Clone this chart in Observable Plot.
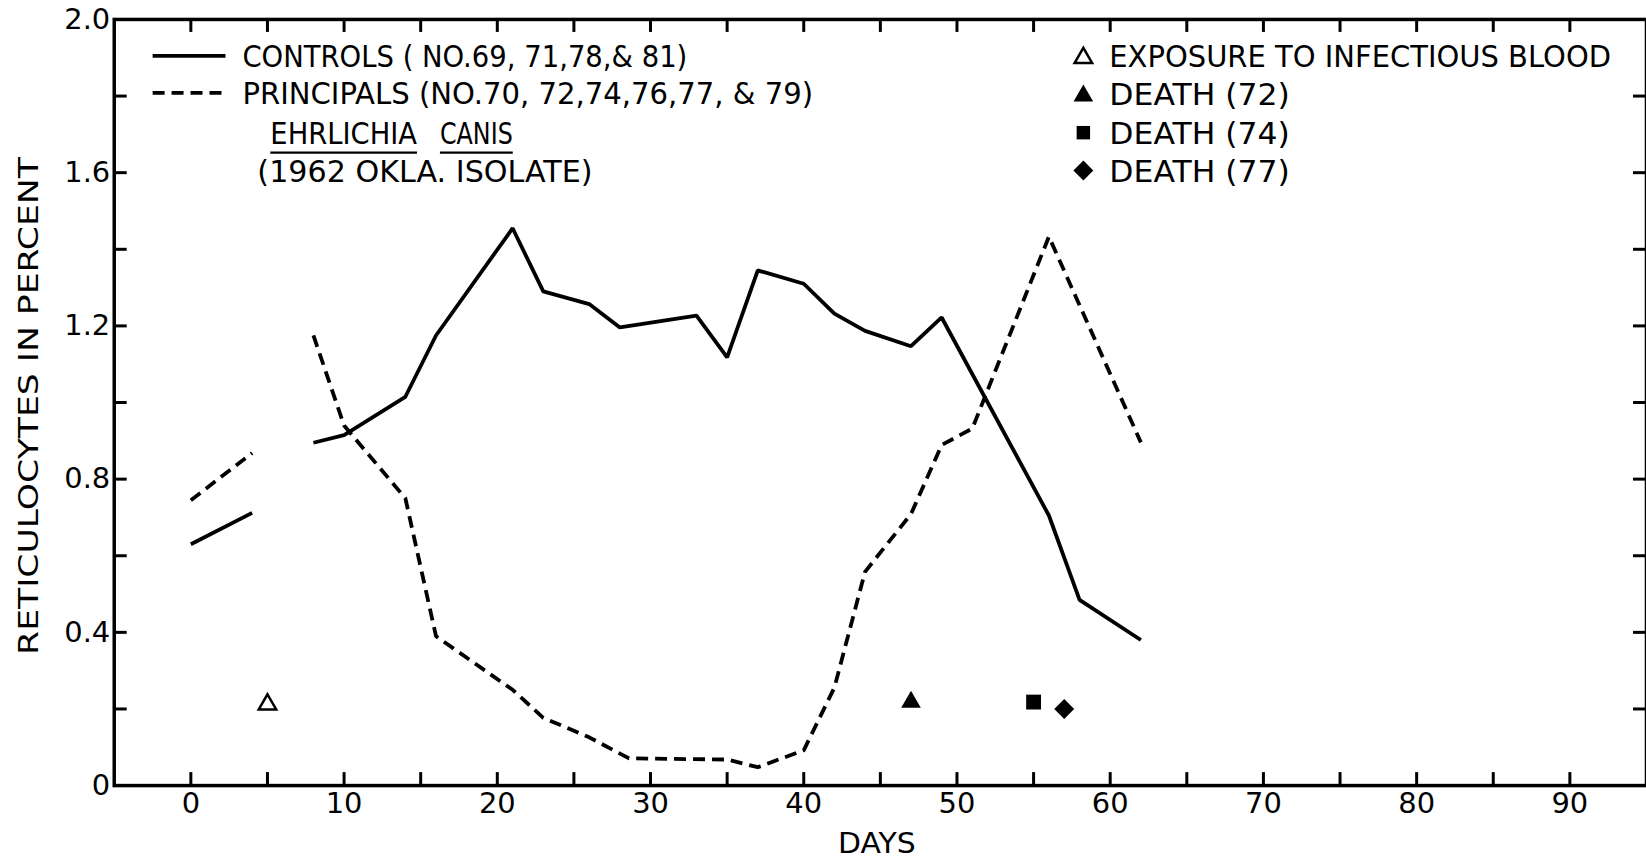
<!DOCTYPE html>
<html>
<head>
<meta charset="utf-8">
<script src="https://cdn.jsdelivr.net/npm/d3@7"></script>
<script src="https://cdn.jsdelivr.net/npm/@observablehq/plot@0.6"></script>
<style>
html, body { margin: 0; padding: 0; background: #fff; overflow: hidden; }
#chart svg { display: block; }
</style>
</head>
<body>
<div id="chart"></div>
<script>
// ---- data ----
const controlsDays1 = [0, 4];
const controlsValues1 = [0.63, 0.712];
const controlsDays2 = [8, 10, 14, 16, 21, 23, 26, 28, 33, 35, 37, 40, 42, 44, 47, 49, 56, 58, 62];
const controlsValues2 = [0.895, 0.915, 1.015, 1.175, 1.455, 1.29, 1.257, 1.196, 1.227, 1.118, 1.345, 1.31, 1.232, 1.187, 1.147, 1.222, 0.705, 0.485, 0.38];

const principalsDays1 = [0, 4];
const principalsValues1 = [0.745, 0.868];
const principalsDays2 = [8, 10, 14, 16, 21, 23, 26, 28.6, 35, 37, 40, 42, 44, 47, 49, 51, 56, 62];
const principalsValues2 = [1.175, 0.94, 0.75, 0.39, 0.25, 0.177, 0.126, 0.071, 0.068, 0.048, 0.092, 0.256, 0.558, 0.709, 0.889, 0.932, 1.433, 0.896];

const eventKinds = ["exposure", "death72", "death74", "death77"];
const eventDays = [5, 47, 55, 57];
const eventValues = [0.212, 0.218, 0.218, 0.2];

const xTickLabels = [0, 10, 20, 30, 40, 50, 60, 70, 80, 90];
const xMinorTicks = [0, 5, 10, 15, 20, 25, 30, 35, 40, 45, 50, 55, 60, 65, 70, 75, 80, 85, 90];
const yTickLabels = [0, 0.4, 0.8, 1.2, 1.6, 2.0];
const yMinorTicks = [0.2, 0.4, 0.6, 0.8, 1.0, 1.2, 1.4, 1.6, 1.8];

const legendSeries = ["CONTROLS ( NO.69, 71,78,& 81)", "PRINCIPALS (NO.70, 72,74,76,77, & 79)"];
const legendOrganism = ["EHRLICHIA", "CANIS"];
const legendIsolate = "(1962 OKLA. ISOLATE)";
const legendEvents = ["EXPOSURE TO INFECTIOUS BLOOD", "DEATH (72)", "DEATH (74)", "DEATH (77)"];
const yTitle = "RETICULOCYTES IN PERCENT";
const xTitle = "DAYS";

// ---- tables ----
const toRows = (days, vals, seg) => days.map((d, i) => ({day: d, value: vals[i], seg}));
const controls = [...toRows(controlsDays1, controlsValues1, "a"), ...toRows(controlsDays2, controlsValues2, "b")];
const principals = [...toRows(principalsDays1, principalsValues1, "a"), ...toRows(principalsDays2, principalsValues2, "b")];
const events = eventKinds.map((k, i) => ({kind: k, day: eventDays[i], value: eventValues[i]}));

const FONT = "DejaVu Sans, Liberation Sans, sans-serif";
const W = 1650, H = 864;

const plot = Plot.plot({
  width: W,
  height: H,
  marginLeft: 114,
  marginRight: 0,
  marginTop: 19,
  marginBottom: 77,
  style: {fontFamily: FONT, background: "#fff", color: "#000"},
  x: {domain: [-5, 95]},
  y: {domain: [0, 2]},
  marks: [
    Plot.frame({stroke: "#000", strokeWidth: 3.5}),
    // inward ticks
    Plot.ruleX(xMinorTicks, {x: d => d, y1: 0, y2: 0, insetTop: -13, stroke: "#000", strokeWidth: 3}),
    Plot.ruleX(xMinorTicks, {x: d => d, y1: 2, y2: 2, insetBottom: -13, stroke: "#000", strokeWidth: 3}),
    Plot.ruleY(yMinorTicks, {y: d => d, x1: -5, x2: -5, insetRight: -13, stroke: "#000", strokeWidth: 3}),
    Plot.ruleY(yMinorTicks, {y: d => d, x1: 95, x2: 95, insetLeft: -13, stroke: "#000", strokeWidth: 3}),
    Plot.axisX(xTickLabels, {tickSize: 0, tickPadding: 7, fontSize: 29, label: null}),
    Plot.axisY(yTickLabels, {tickSize: 0, tickPadding: 4, fontSize: 29, label: null,
      tickFormat: d => d === 0 ? "0" : d.toFixed(1)}),
    Plot.line(controls, {x: "day", y: "value", z: "seg", stroke: "#000", strokeWidth: 3.8,
      strokeLinejoin: "miter", strokeLinecap: "butt"}),
    Plot.line(principals, {x: "day", y: "value", z: "seg", stroke: "#000", strokeWidth: 3.8,
      strokeDasharray: "12,7", strokeLinejoin: "miter", strokeLinecap: "butt"}),
    Plot.dot(events, {filter: d => d.kind === "exposure", x: "day", y: "value", symbol: "triangle", r: 6.5,
      fill: "none", stroke: "#000", strokeWidth: 2.5}),
    Plot.dot(events, {filter: d => d.kind === "death72", x: "day", y: "value", symbol: "triangle", r: 7.3,
      fill: "#000", stroke: "none"}),
    Plot.dot(events, {filter: d => d.kind === "death74", x: "day", y: "value", symbol: "square", r: 8.4,
      fill: "#000", stroke: "none"}),
    Plot.dot(events, {filter: d => d.kind === "death77", x: "day", y: "value", symbol: "diamond2", r: 9,
      fill: "#000", stroke: "none"})
  ]
});

document.getElementById("chart").appendChild(plot);

// ---- legend and titles ----
const svg = d3.select(plot);
const g = svg.append("g").attr("font-family", FONT).attr("fill", "#000").attr("text-anchor", "start");
const fit = (t, len) => t.attr("textLength", len).attr("lengthAdjust", "spacingAndGlyphs");

// series legend
g.append("line").attr("x1", 153).attr("x2", 226).attr("y1", 56).attr("y2", 56)
  .attr("stroke", "#000").attr("stroke-width", 3.8);
fit(g.append("text").attr("x", 243).attr("y", 67).attr("font-size", 31).text(legendSeries[0]), 446);
g.append("line").attr("x1", 153).attr("x2", 229).attr("y1", 93).attr("y2", 93)
  .attr("stroke", "#000").attr("stroke-width", 3.8).attr("stroke-dasharray", "12,7");
fit(g.append("text").attr("x", 243).attr("y", 104).attr("font-size", 31).text(legendSeries[1]), 572);

fit(g.append("text").attr("x", 271).attr("y", 144).attr("font-size", 31).text(legendOrganism[0]), 147);
fit(g.append("text").attr("x", 441).attr("y", 144).attr("font-size", 31).text(legendOrganism[1]), 73);
g.append("line").attr("x1", 271).attr("x2", 418).attr("y1", 153).attr("y2", 153).attr("stroke", "#000").attr("stroke-width", 2.5);
g.append("line").attr("x1", 441).attr("x2", 514).attr("y1", 153).attr("y2", 153).attr("stroke", "#000").attr("stroke-width", 2.5);
fit(g.append("text").attr("x", 258).attr("y", 182).attr("font-size", 31).text(legendIsolate), 336);

// event legend
const symY = [56, 94, 133, 171];
const syms = [
  {type: d3.symbolTriangle, size: Math.PI * 6.5 * 6.5, fill: "none", stroke: "#000"},
  {type: d3.symbolTriangle, size: Math.PI * 7.3 * 7.3, fill: "#000", stroke: "none"},
  {type: d3.symbolSquare, size: Math.PI * 7.6 * 7.6, fill: "#000", stroke: "none"},
  {type: d3.symbolDiamond2, size: Math.PI * 9 * 9, fill: "#000", stroke: "none"}
];
syms.forEach((s, i) => {
  g.append("path").attr("transform", `translate(1086,${symY[i] + (i < 2 ? 2 : 0)})`)
    .attr("d", d3.symbol(s.type, s.size)())
    .attr("fill", s.fill).attr("stroke", s.stroke).attr("stroke-width", 2.5);
});
const evLen = [503, 181, 181, 181];
legendEvents.forEach((t, i) => {
  fit(g.append("text").attr("x", 1112).attr("y", symY[i] + 11.5).attr("font-size", 31).text(t), evLen[i]);
});

// axis titles
fit(g.append("text").attr("transform", "translate(38,407) rotate(-90)").attr("text-anchor", "middle")
  .attr("font-size", 26).text(yTitle), 499);
fit(g.append("text").attr("x", 879).attr("y", 855).attr("text-anchor", "middle")
  .attr("font-size", 28).text(xTitle), 78);
</script>
</body>
</html>
